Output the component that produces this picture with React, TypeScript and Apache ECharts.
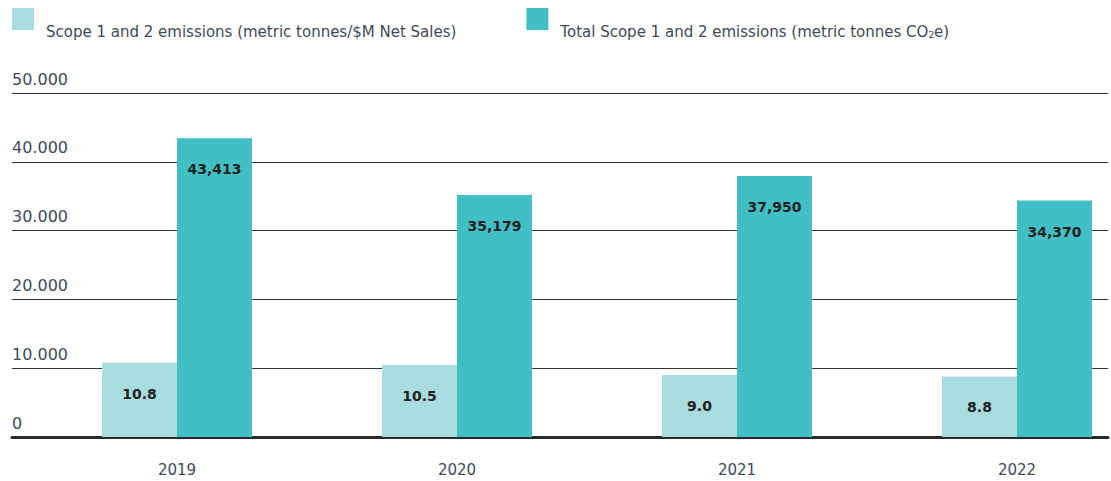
import React, { useEffect, useRef } from "react";
import * as echarts from "echarts";

const years = ["2019", "2020", "2021", "2022"];
const intensity = [10.8, 10.5, 9.0, 8.8];
const totals = [43413, 35179, 37950, 34370];
const yTicks = [0, 10000, 20000, 30000, 40000, 50000];

const FONT = "'DejaVu Sans', sans-serif";
const TEXT = "#3d4a5a";
const LIGHT = "#a8dcdf";
const DARK = "#41bfc5";

export default function App() {
  const ref = useRef<HTMLDivElement>(null);
  useEffect(() => {
    if (!ref.current) return;
    const chart = echarts.init(ref.current, undefined, { renderer: "svg" });
    chart.setOption({
      animation: false,
      textStyle: { fontFamily: FONT },
      legend: {
        left: 12,
        top: 8,
        padding: 0,
        itemWidth: 22,
        itemHeight: 22,
        itemGap: 70,
        icon: "rect",
        textStyle: {
          fontFamily: FONT,
          fontSize: 15,
          color: TEXT,
          padding: [26, 0, 0, 7],
          rich: {
            sub: { fontSize: 9, color: TEXT, fontFamily: FONT, padding: [6, 0, 0, 0] },
          },
        },
        formatter: (name: string) =>
          name.includes("CO2e") ? name.replace("CO2e", "CO{sub|2}e") : name,
        data: [
          "Scope 1 and 2 emissions (metric tonnes/$M Net Sales)",
          "Total Scope 1 and 2 emissions (metric tonnes CO2e)",
        ],
      },
      grid: [
        { left: 12, right: 3, top: 93, bottom: 44 },
        { left: 177, right: 94, top: 93, bottom: 44 },
      ],
      xAxis: [
        {
          type: "value",
          gridIndex: 0,
          min: 0,
          max: 1,
          axisLine: { show: true, onZero: false, lineStyle: { color: "#2a2a2a", width: 3 } },
          axisTick: { show: false },
          axisLabel: { show: false },
          splitLine: { show: false },
        },
        {
          type: "category",
          gridIndex: 1,
          data: years,
          boundaryGap: false,
          axisLine: { show: false },
          axisTick: { show: false },
          axisLabel: { color: TEXT, fontSize: 15, margin: 25, fontFamily: FONT },
        },
      ],
      yAxis: [
        {
          type: "value",
          gridIndex: 0,
          min: 0,
          max: yTicks[yTicks.length - 1],
          interval: 10000,
          axisLine: { show: false },
          axisTick: { show: false },
          splitLine: { lineStyle: { color: "#333", width: 1 } },
          axisLabel: {
            inside: true,
            margin: 0,
            align: "left",
            verticalAlign: "bottom",
            padding: [0, 0, 6, 0],
            color: TEXT,
            fontSize: 16,
            fontFamily: FONT,
            formatter: (v: number) => (v === 0 ? "0" : (v / 1000).toFixed(3)),
          },
        },
        { type: "value", gridIndex: 1, min: 0, max: 50000, show: false },
        { type: "value", gridIndex: 1, min: 0, max: 50, show: false },
      ],
      series: [
        {
          name: "Scope 1 and 2 emissions (metric tonnes/$M Net Sales)",
          type: "bar",
          xAxisIndex: 1,
          yAxisIndex: 2,
          data: intensity,
          barWidth: 75,
          barGap: "0%",
          itemStyle: { color: LIGHT },
          label: {
            show: true,
            position: "insideTop",
            distance: 24,
            color: "#222",
            fontWeight: "bold",
            fontSize: 14,
            fontFamily: FONT,
            formatter: (p: any) => Number(p.value).toFixed(1),
          },
        },
        {
          name: "Total Scope 1 and 2 emissions (metric tonnes CO2e)",
          type: "bar",
          xAxisIndex: 1,
          yAxisIndex: 1,
          data: totals,
          barWidth: 75,
          barGap: "0%",
          itemStyle: { color: DARK },
          label: {
            show: true,
            position: "insideTop",
            distance: 24,
            color: "#222",
            fontWeight: "bold",
            fontSize: 14,
            fontFamily: FONT,
            formatter: (p: any) => Number(p.value).toLocaleString("en-US"),
          },
        },
      ],
    });
    return () => chart.dispose();
  }, []);
  return <div ref={ref} style={{ width: 1111, height: 481, position: "absolute", left: 0, top: 0 }} />;
}
